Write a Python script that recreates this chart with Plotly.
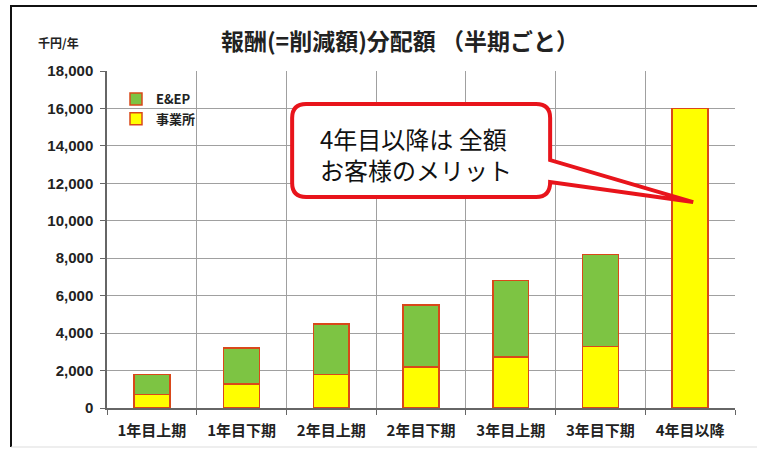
import plotly.graph_objects as go

# ---- data ----
categories = ["1年目上期", "1年目下期", "2年目上期", "2年目下期", "3年目上期", "3年目下期", "4年目以降"]
office_values = [720, 1280, 1800, 2200, 2720, 3280, 16000]   # 事業所
eep_values = [1080, 1920, 2700, 3300, 4080, 4920, 0]         # E&EP
y_tick_values = [0, 2000, 4000, 6000, 8000, 10000, 12000, 14000, 16000, 18000]
callout_lines = ["4年目以降は 全額", "お客様のメリット"]
callout_target_category = "4年目以降"
callout_target_value = 11000

W, H = 757, 453
ML, MR, MT, MB = 107, 22, 71, 45
PW, PH = W - ML - MR, H - MT - MB

def px(x):
    return (x - ML) / PW

def py(y):
    return (H - MB - y) / PH

FONT = "Liberation Sans, Noto Sans CJK JP, sans-serif"
CJK = "Noto Sans CJK JP, sans-serif"
edge = "#D9481A"

fig = go.Figure()
fig.add_trace(go.Bar(
    x=categories, y=office_values, name="事業所",
    marker=dict(color="#FFFF00", line=dict(color=edge, width=1.5)),
    width=0.4,
))
fig.add_trace(go.Bar(
    x=categories, y=eep_values, name="E&EP",
    marker=dict(color="#7DC443", line=dict(color=edge, width=1.5)),
    width=0.4,
))

# callout (pixel path relative to the point it targets)
dx = 3
Lx, Rx, Ty, By, r = -395 - dx, -137 - dx, 98, 5, 14
tailTop, tailBot = 42, 20
path = (
    f"M {Lx + r},{Ty} H {Rx - r} Q {Rx},{Ty} {Rx},{Ty - r} "
    f"V {tailTop} L {dx},0 L {Rx},{tailBot} Q {Rx},{By} {Rx - r},{By} "
    f"H {Lx + r} Q {Lx},{By} {Lx},{By + r} V {Ty - r} Q {Lx},{Ty} {Lx + r},{Ty} Z"
)
fig.add_shape(
    type="path", xref="x", yref="y",
    xsizemode="pixel", ysizemode="pixel",
    xanchor=callout_target_category, yanchor=callout_target_value,
    path=path, line=dict(color="#E8141B", width=4), fillcolor="white",
    layer="above",
)

fig.add_annotation(
    text="<br>".join(callout_lines), xref="paper", yref="paper",
    x=px(318), y=py(154), xanchor="left", yanchor="middle", align="left",
    showarrow=False, font=dict(family=CJK, size=24, color="#111111"),
)

# unit label
fig.add_annotation(
    text="<b>千円/年</b>", xref="paper", yref="paper",
    x=px(58), y=py(42), xanchor="center", yanchor="middle",
    showarrow=False, font=dict(family=CJK, size=12, color="#222222"),
)

# outer frame lines
fig.add_shape(type="line", xref="paper", yref="paper",
              x0=px(10), x1=px(757), y0=py(6), y1=py(6),
              line=dict(color="#111111", width=2))
fig.add_shape(type="line", xref="paper", yref="paper",
              x0=px(11), x1=px(11), y0=py(6), y1=py(447),
              line=dict(color="#111111", width=2))
fig.add_shape(type="line", xref="paper", yref="paper",
              x0=px(11), x1=px(757), y0=py(447), y1=py(447),
              line=dict(color="#DDDDDD", width=1))

fig.update_layout(
    width=W, height=H,
    margin=dict(l=ML, r=MR, t=MT, b=MB),
    paper_bgcolor="white", plot_bgcolor="white",
    barmode="stack",
    title=dict(
        text="<b>報酬(=削減額)分配額 （半期ごと）</b>",
        x=400 / W, xanchor="center", y=1 - 42 / H, yanchor="middle",
        font=dict(family=CJK, size=23, color="#222222"),
    ),
    legend=dict(
        x=px(116), y=py(84), xanchor="left", yanchor="top",
        traceorder="reversed", bgcolor="rgba(0,0,0,0)",
        font=dict(family=CJK, size=13, color="#222222", weight="bold"),
        itemwidth=30,
    ),
    showlegend=True,
    font=dict(family=FONT),
)
fig.update_xaxes(
    type="category", tickson="boundaries", ticks="outside", ticklen=5,
    tickcolor="#666666", showgrid=True, gridcolor="#A0A0A0", gridwidth=1,
    showline=True, linecolor="#666666", linewidth=1.5,
    tickfont=dict(family=CJK, size=15, color="#222222", weight="bold"),
    ticklabelstandoff=8,
    range=[-0.5, 6.5],
)
fig.update_yaxes(
    range=[0, 18000], tickvals=y_tick_values, tickformat=",d",
    ticks="outside", ticklen=5, tickcolor="#666666",
    showgrid=True, gridcolor="#A0A0A0", gridwidth=1,
    showline=True, linecolor="#666666", linewidth=1.5,
    zeroline=False, ticklabelstandoff=4,
    tickfont=dict(family=FONT, size=15, color="#222222", weight="bold"),
)

fig.write_html(
    "out.html",
    config={"displayModeBar": False},
    post_script="document.body.style.margin='0';",
)
